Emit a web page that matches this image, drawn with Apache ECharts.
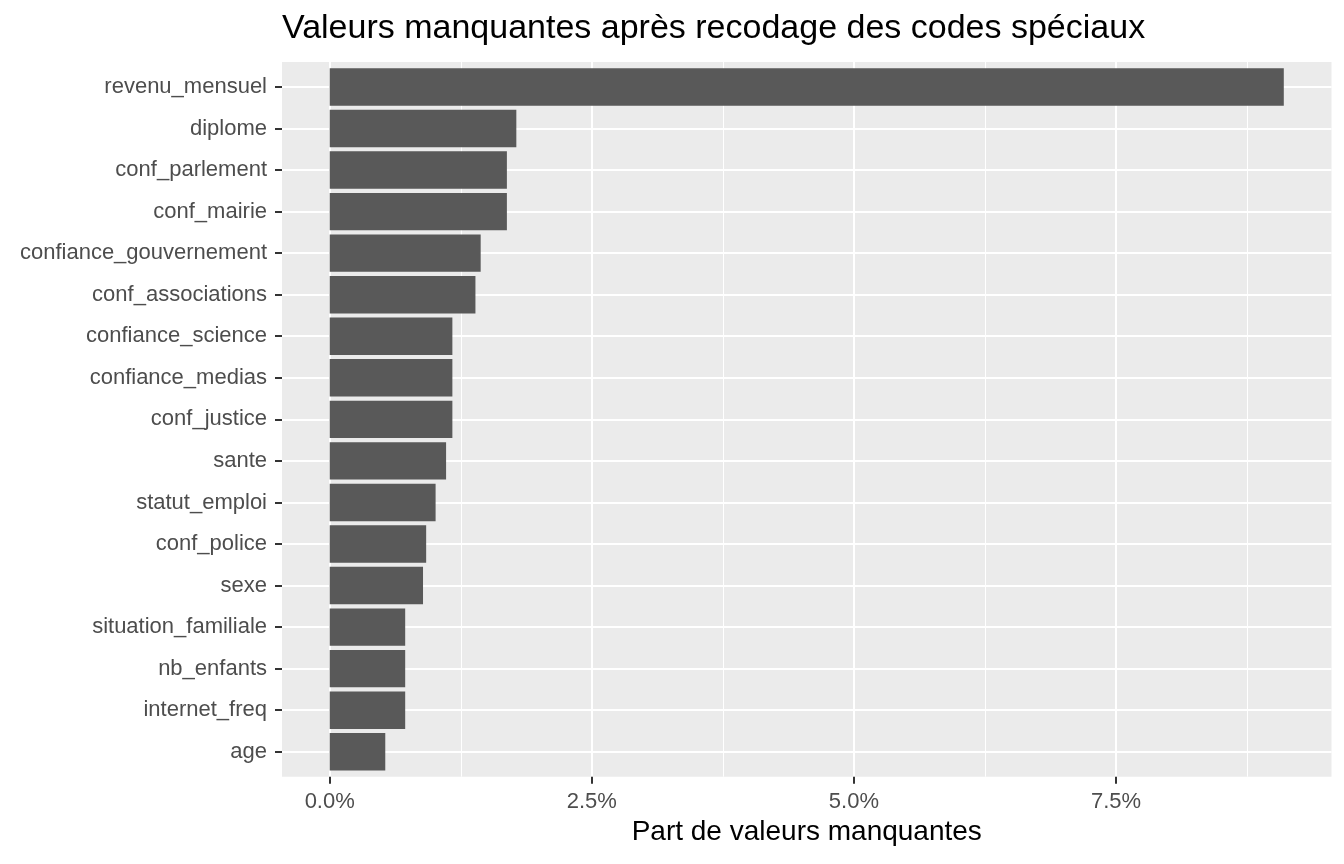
<!DOCTYPE html>
<html>
<head>
<meta charset="utf-8">
<script src="https://cdn.jsdelivr.net/npm/echarts@6/dist/echarts.min.js"></script>
<style>
  html, body { margin: 0; padding: 0; background: #ffffff; }
  #chart { width: 1344px; height: 864px; }
</style>
</head>
<body>
<div id="chart"></div>
<script>
// variables, du haut vers le bas
var categories = ['revenu_mensuel', 'diplome', 'conf_parlement', 'conf_mairie',
  'confiance_gouvernement', 'conf_associations', 'confiance_science', 'confiance_medias',
  'conf_justice', 'sante', 'statut_emploi', 'conf_police', 'sexe',
  'situation_familiale', 'nb_enfants', 'internet_freq', 'age'];
// part de valeurs manquantes, en %
var values = [9.10, 1.78, 1.69, 1.69, 1.44, 1.39, 1.17, 1.17, 1.17, 1.11, 1.01, 0.92, 0.89,
  0.72, 0.72, 0.72, 0.53];
var majorTicks = [0, 2.5, 5, 7.5];
var minorTicks = [1.25, 3.75, 6.25, 8.75];
var xMin = -0.455, xMax = 9.555;

var FONT = "'Liberation Sans', Arial, sans-serif";
var catIndex = categories.map(function (c, i) { return i; });

function renderBar(params, api) {
  var y = api.value(1);
  var start = api.coord([0, y]);
  var end = api.coord([api.value(0), y]);
  var h = api.size([0, 0.9])[1];
  return {
    type: 'rect',
    shape: { x: start[0], y: start[1] - h / 2, width: end[0] - start[0], height: h },
    style: { fill: '#595959' }
  };
}

var chart = echarts.init(document.getElementById('chart'));
var option = {
  animation: false,
  title: {
    text: 'Valeurs manquantes après recodage des codes spéciaux',
    left: 277,
    top: 7,
    textStyle: { fontFamily: FONT, fontSize: 34, fontWeight: 'normal', color: '#000000' }
  },
  grid: {
    left: 282, right: 12.5, top: 62, bottom: 87.3,
    show: true, backgroundColor: '#EBEBEB', borderWidth: 0
  },
  xAxis: [
    {
      type: 'value',
      min: xMin, max: xMax,
      position: 'bottom',
      name: 'Part de valeurs manquantes',
      nameLocation: 'middle',
      nameGap: 42,
      nameTextStyle: { fontFamily: FONT, fontSize: 28, color: '#000000' },
      axisLine: { show: false, onZero: false },
      axisTick: { show: true, length: 7, customValues: majorTicks, lineStyle: { color: '#333333', width: 2 } },
      axisLabel: {
        customValues: majorTicks, margin: 14,
        fontFamily: FONT, fontSize: 22, color: '#4D4D4D',
        formatter: function (v) { return v.toFixed(1) + '%'; }
      },
      splitLine: { show: true, customValues: majorTicks, lineStyle: { color: '#FFFFFF', width: 2 } }
    },
    {
      // lignes secondaires
      type: 'value',
      min: xMin, max: xMax,
      position: 'top',
      axisLine: { show: false, onZero: false },
      axisTick: { show: false, customValues: minorTicks },
      axisLabel: { show: false, customValues: minorTicks },
      splitLine: { show: true, customValues: minorTicks, lineStyle: { color: '#FFFFFF', width: 1 } }
    }
  ],
  yAxis: {
    type: 'value',
    inverse: true,
    position: 'left',
    min: -0.6, max: categories.length - 0.4,
    axisLine: { show: false, onZero: false },
    axisTick: { show: true, length: 7, customValues: catIndex, lineStyle: { color: '#333333', width: 2 } },
    axisLabel: {
      customValues: catIndex, margin: 15,
      fontFamily: FONT, fontSize: 22, color: '#4D4D4D',
      formatter: function (v) { return categories[Math.round(v)]; }
    },
    splitLine: { show: true, customValues: catIndex, lineStyle: { color: '#FFFFFF', width: 2 } }
  },
  series: [
    {
      type: 'custom',
      xAxisIndex: 0,
      renderItem: renderBar,
      encode: { x: 0, y: 1 },
      data: values.map(function (v, i) { return [v, i]; })
    }
  ]
};
chart.setOption(option);
</script>
</body>
</html>
